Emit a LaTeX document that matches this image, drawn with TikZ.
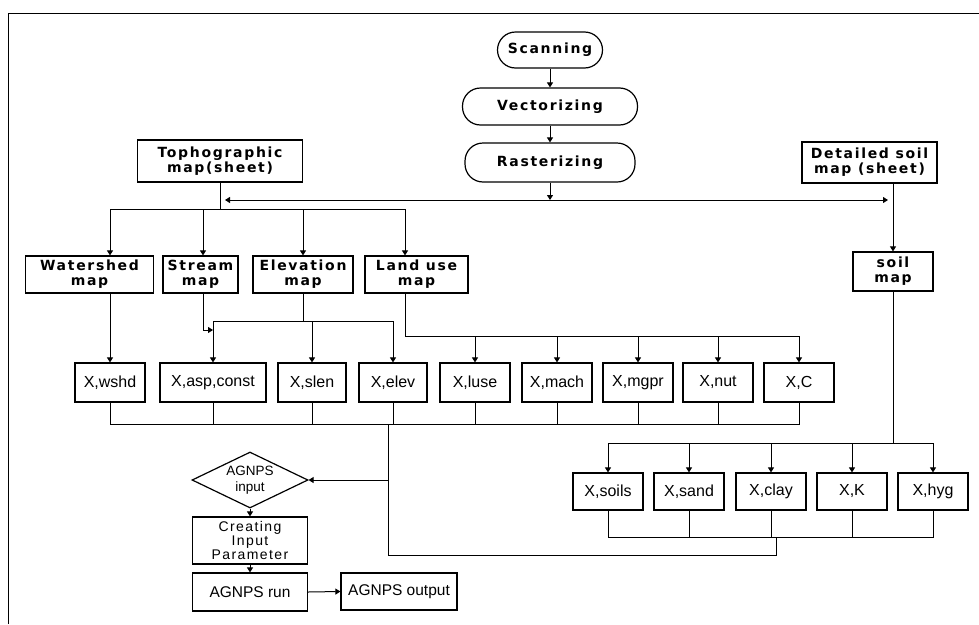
\documentclass[tikz,border=0pt]{standalone}
\usepackage{fontspec}
\setmainfont{Liberation Sans}
\newfontfamily\boldlab[LetterSpace=12]{DejaVu Sans}
\newfontfamily\spacedlab[LetterSpace=10]{Liberation Sans}
\usetikzlibrary{arrows.meta,shapes.geometric}

\begin{document}
\begin{tikzpicture}[x=1pt,y=-1pt,
  line width=1pt,
  arr/.style={-{Triangle[length=5pt,width=6pt]}},
  bbox/.style={draw,line width=1.2pt,rectangle,inner sep=0pt,align=center,
    font=\boldlab\bfseries\fontsize{14}{15}\selectfont},
  pill/.style={bbox,rounded corners=18pt},
  mapbox/.style={bbox,minimum height=37pt},
  xbox/.style={draw,line width=1.2pt,rectangle,inner sep=0pt,
    font=\fontsize{16}{18}\selectfont,minimum width=70pt,minimum height=39pt},
  sbox/.style={xbox,minimum height=37pt},
  rbox/.style={draw,line width=1.2pt,rectangle,inner sep=0pt,align=center,
    font=\fontsize{15.5}{16}\selectfont}
]
\useasboundingbox (0,0) rectangle (979,624);
\fill[white] (0,0) rectangle (979,624);
% frame
\draw[line width=1pt] (8,624) -- (8,13) -- (979,13);

% top flow
\node[pill,minimum width=105pt,minimum height=36pt] (scan) at (550,50) {Scanning};
\node[pill,minimum width=175pt,minimum height=37pt] (vect) at (550,106.5) {Vectorizing};
\node[pill,minimum width=170pt,minimum height=39pt] (rast) at (550,162.5) {Rasterizing};
\node[bbox,minimum width=165pt,minimum height=42pt] (topo) at (220,161) {Tophographic\\map(sheet)};
\node[bbox,minimum width=135pt,minimum height=41pt] (detail) at (869.5,162.5) {Detailed soil\\map (sheet)};

% maps
\node[mapbox,minimum width=128pt] (wsh) at (89.5,274.5) {Watershed\\map};
\node[mapbox,minimum width=75pt] (stream) at (200.5,274.5) {Stream\\map};
\node[mapbox,minimum width=100pt] (elev) at (303,274.5) {Elevation\\map};
\node[mapbox,minimum width=103pt] (land) at (416.5,274.5) {Land use\\map};
\node[bbox,minimum width=80pt,minimum height=39pt] (soil) at (893,271.5) {soil\\map};

% X row 1
\node[xbox] (xwshd) at (110,382.5) {X,wshd};
\node[xbox,minimum width=106pt] (xasp) at (213,382.5) {X,asp,const};
\node[xbox,minimum width=68pt] (xslen) at (312,382.5) {X,slen};
\node[xbox,minimum width=68pt] (xelev) at (393,382.5) {X,elev};
\node[xbox] (xluse) at (475,382.5) {X,luse};
\node[xbox] (xmach) at (557,382.5) {X,mach};
\node[xbox] (xmgpr) at (638,382.5) {X,mgpr};
\node[xbox] (xnut) at (718,382.5) {X,nut};
\node[xbox] (xc) at (799,382.5) {X,C};

% soil X row
\node[sbox] (xsoils) at (608,491.5) {X,soils};
\node[sbox] (xsand) at (689,491.5) {X,sand};
\node[sbox] (xclay) at (771,491.5) {X,clay};
\node[sbox] (xk) at (852,491.5) {X,K};
\node[sbox] (xhyg) at (933,491.5) {X,hyg};

% AGNPS
\node[draw,diamond,line width=1.2pt,aspect=2.07,inner sep=0pt,minimum width=116pt,minimum height=56pt,
  align=center,font=\fontsize{13.5}{16}\selectfont] (diam) at (250,480) {AGNPS\\input};
\node[rbox,minimum width=115pt,minimum height=47pt,font=\spacedlab\fontsize{14}{14}\selectfont] (create) at (250,540.5) {Creating\\Input\\Parameter};
\node[rbox,minimum width=115pt,minimum height=38pt] (run) at (250,592) {AGNPS run};
\node[rbox,minimum width=116pt,minimum height=37pt] (out) at (399,591.5) {AGNPS output};

% top connectors
\coordinate (j0) at (550,200);
\draw[arr] (scan) -- (vect);
\draw[arr] (vect) -- (rast);
\draw[arr] (rast) -- (j0);
\draw[arr,shorten >=5pt] (j0) -- (topo.south |- j0);
\draw[arr,shorten >=5pt] (j0) -- (soil.north |- j0);

% topo bus
\coordinate (t1) at (110,209);
\coordinate (t2) at (203,209);
\coordinate (t3) at (303,209);
\coordinate (t4) at (405,209);
\draw (topo.south) -- (topo.south |- t1);
\draw (t1) -- (t4);
\draw[arr] (t1) -- (t1 |- wsh.north);
\draw[arr] (t2) -- (t2 |- stream.north);
\draw[arr] (t3) -- (t3 |- elev.north);
\draw[arr] (t4) -- (t4 |- land.north);

% detailed soil
\draw[arr] (soil.north |- detail.south) -- (soil.north);

% watershed
\draw[arr] (xwshd.north |- wsh.south) -- (xwshd.north);

% stream
\coordinate (s1) at (203,330);
\draw[arr] (s1 |- stream.south) -- (s1) -- (xasp.north |- s1);

% elevation
\coordinate (e1) at (303,321);
\draw (e1 |- elev.south) -- (e1);
\draw (xasp.north |- e1) -- (xelev.north |- e1);
\foreach \n in {xasp,xslen,xelev}
  \draw[arr] (\n.north |- e1) -- (\n.north);

% land use
\coordinate (l1) at (405,336);
\draw (l1 |- land.south) -- (l1) -- (xc.north |- l1);
\foreach \n in {xluse,xmach,xmgpr,xnut,xc}
  \draw[arr] (\n.north |- l1) -- (\n.north);

% bottom bus row 1
\coordinate (bb) at (388,424);
\draw (xwshd.south) -- (xwshd.south |- bb) -- (xc.south |- bb) -- (xc.south);
\foreach \n in {xasp,xslen,xelev,xluse,xmach,xmgpr,xnut}
  \draw (\n.south) -- (\n.south |- bb);

% soil bus
\coordinate (st) at (893,443);
\draw (soil.south) -- (st);
\draw (xsoils.north |- st) -- (xhyg.north |- st);
\foreach \n in {xsoils,xsand,xclay,xk,xhyg}
  \draw[arr] (\n.north |- st) -- (\n.north);
\coordinate (sb) at (776,537);
\draw (xsoils.south) -- (xsoils.south |- sb) -- (xhyg.south |- sb) -- (xhyg.south);
\foreach \n in {xsand,xclay,xk}
  \draw (\n.south) -- (\n.south |- sb);

% merge to AGNPS
\coordinate (m1) at (388,480);
\coordinate (m2) at (388,555);
\coordinate (m3) at (776,555);
\draw (bb) -- (m2) -- (m3) -- (sb);
\draw[arr] (m1) -- (diam.east);
\draw[arr] (diam.south) -- (create.north);
\draw[arr] (create.south) -- (run.north);
\draw[arr] (run.east) -- (out.west);
\end{tikzpicture}
\end{document}
